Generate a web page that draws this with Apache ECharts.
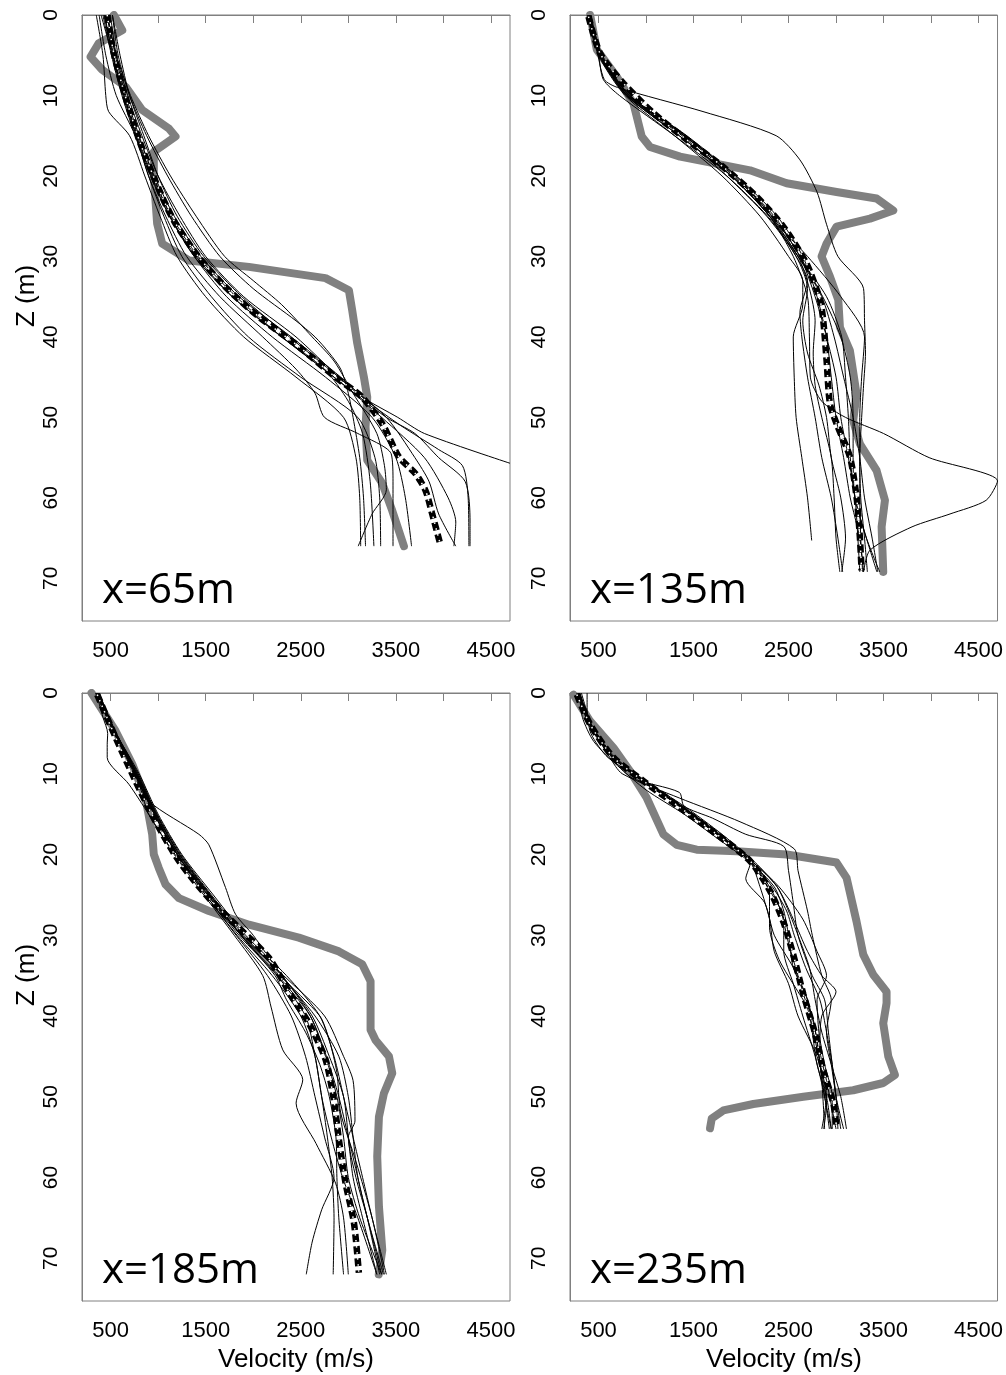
<!DOCTYPE html>
<html>
<head>
<meta charset="utf-8">
<script src="https://cdn.jsdelivr.net/npm/echarts@6.0.0/dist/echarts.min.js"></script>
<style>
html, body { margin: 0; background: #fff; }
#chart { width: 1006px; height: 1375px; }
</style>
</head>
<body>
<div id="chart"></div>
<script>
// each profile point is [depth (m), velocity (m/s)]

// x = 65 m
let true65 = [[0,535],[1.9,623],[3.5,377],[5.2,290],[6.8,412],[8.9,658],[11.8,833],[14.1,1113],[15.1,1183],[17,955],[20.1,955],[25.9,990],[28.4,1043],[30.5,1324],[31.3,1955],[32.7,2760],[34.2,3006],[36.7,3041],[40.8,3094],[45,3164],[47.5,3199],[51.2,3181],[55.3,3199],[58.2,3357],[61.6,3462],[66,3585]];
let mean65 = [[0,465],[4.8,535],[10.2,658],[16,815],[22.6,1043],[25.9,1183],[30.1,1429],[33.8,1709],[37.5,2060],[41.2,2480],[45,2866],[47.5,3146],[50.8,3357],[54.9,3532],[57,3707],[59.1,3812],[62,3882],[65.9,3970]];
let runs65 = [
    [[0,500],[5,560],[10,680],[15,830],[20,1000],[25,1230],[30,1500],[35,1900],[40,2450],[45,2900],[47.5,3150],[50,3520],[52,3800],[55.7,4700]],
    [[0,470],[5,530],[10,640],[15,790],[20,960],[25,1170],[30,1450],[35,1850],[40,2400],[45,2920],[48,3200],[51,3550],[54,3950],[56,4200],[60,4260],[66,4268]],
    [[0,420],[5,510],[10,620],[15,760],[20,920],[25,1120],[30,1400],[35,1780],[40,2300],[45,2850],[50,3350],[55,3800],[60,4050],[63,4130],[66,4110]],
    [[0,520],[5,600],[10,700],[15,850],[20,1000],[25,1200],[30,1480],[35,1880],[40,2380],[45,2900],[50,3400],[55,3700],[58,3850],[62,3950],[66,4130]],
    [[0,470],[5,550],[10,660],[15,800],[20,950],[25,1130],[30,1380],[35,1720],[40,2200],[45,2760],[50,3250],[55,3500],[60,3600],[66,3665]],
    [[0,400],[5,520],[10,640],[15,770],[20,900],[25,1060],[30,1250],[35,1560],[40,1950],[45,2500],[50,3100],[55,3280],[60,3330],[66,3340]],
    [[0,380],[5,450],[10,560],[15,760],[20,900],[25,1080],[30,1300],[35,1650],[40,2100],[44,2450],[47,2650],[50,2750],[52,3100],[54.5,3450],[58,3470],[66,3470]],
    [[0,440],[5,520],[10,630],[15,770],[20,930],[25,1120],[30,1380],[35,1780],[40,2300],[44,2750],[48,3000],[52,3150],[58,3230],[66,3269]],
    [[0,520],[5,580],[10,700],[15,880],[20,1100],[25,1350],[30,1650],[34,2000],[38,2450],[40,2650],[42,2800],[44,2920],[47,3000],[50,3050],[55,3120],[60,3160],[66,3181]],
    [[0,460],[5,560],[10,710],[15,900],[20,1130],[25,1400],[30,1700],[33,2000],[36,2300],[40,2620],[43,2850],[47,3050],[52,3300],[56,3380],[59,3400],[62,3250],[66,3104]],
    [[0,350],[5,420],[10,450],[12,480],[15,700],[20,860],[25,1020],[30,1200],[35,1500],[40,1900],[45,2450],[50,2950],[55,3080],[60,3120],[66,3130]],
    [[0,430],[5,530],[10,650],[15,780],[20,940],[25,1140],[30,1420],[35,1820],[40,2300],[45,2850],[50,3400],[52,3700],[55,3950],[58,4230],[63,4280],[66,4280]]
];

// x = 135 m
let true135 = [[0,412],[4.3,482],[7.7,693],[11,868],[15.1,955],[16.4,1043],[17.6,1359],[18.4,1709],[19.3,2095],[20.9,2480],[22,3006],[22.8,3427],[24.3,3602],[25.3,3357],[26.3,3006],[28.4,2901],[30,2848],[32.5,2936],[35.4,3024],[38.8,3041],[41.7,3146],[47.1,3216],[50.4,3181],[53.3,3251],[56.6,3427],[60.3,3515],[63.6,3480],[69.2,3497]];
let mean135 = [[0.2,395],[4.8,518],[8.5,763],[12.2,1079],[15.5,1429],[18.9,1814],[22.6,2165],[26.3,2445],[30.9,2690],[35.4,2831],[38,2866],[43,2901],[48.3,2936],[50.8,3006],[54.9,3146],[59.9,3216],[64.9,3251],[69,3269]];
let runs135 = [
    [[0,420],[4,480],[8,560],[9,700],[12,1600],[15,2370],[18,2620],[22,2800],[26,2900],[30,3020],[34,3290],[38,3300],[42,3310],[46,3290],[50,3270],[55,3250],[60,3260],[65,3300],[69.2,3330]],
    [[0,400],[5,520],[10,800],[15,1350],[20,1900],[25,2300],[30,2550],[35,2700],[40,2720],[45,2730],[48,2850],[50,3100],[52,3500],[55,3980],[57.9,4700],[60.3,4580],[62,4200],[63.6,3800],[66.5,3357],[69.2,3290]],
    [[0,380],[5,500],[10,780],[15,1300],[20,1800],[25,2200],[30,2500],[33,2650],[36,2650],[40,2550],[45,2560],[50,2580],[55,2640],[60,2700],[65.3,2744]],
    [[0,390],[5,510],[10,790],[15,1380],[20,1850],[25,2270],[30,2580],[34,2700],[38,2650],[42,2700],[46,2820],[50,2900],[55,2950],[60,3050],[65,3100],[69.2,3060]],
    [[0,400],[5,530],[10,820],[15,1400],[20,1900],[25,2300],[30,2600],[34,2720],[38,2780],[42,2760],[46,2780],[50,2850],[55,2950],[60,2980],[65,3000],[69.2,3040]],
    [[0,410],[5,540],[10,830],[15,1430],[20,1950],[25,2380],[30,2650],[35,2800],[40,2900],[45,2950],[50,3000],[55,3080],[60,3150],[65,3250],[69.2,3290]],
    [[0,400],[5,520],[10,810],[15,1420],[20,1930],[25,2350],[30,2620],[35,2860],[40,3050],[45,3150],[50,3180],[55,3180],[60,3200],[65,3320],[69.2,3430]],
    [[0,390],[5,500],[8,550],[10,720],[15,1300],[20,1850],[25,2280],[30,2600],[35,2900],[40,3060],[45,3100],[50,3130],[55,3150],[60,3200],[65,3320],[69.2,3460]],
    [[0,420],[5,530],[10,800],[15,1350],[20,1900],[22,2100],[25,2300],[30,2700],[35,3050],[40,3300],[45,3270],[50,3250],[55,3250],[60,3250],[65,3260],[69.2,3280]],
    [[0,400],[5,520],[10,830],[15,1420],[20,1920],[25,2330],[30,2620],[35,2780],[40,2900],[45,3000],[50,3050],[55,3130],[60,3200],[65,3230],[69.2,3250]],
    [[0,410],[5,530],[10,820],[15,1400],[20,1950],[25,2320],[30,2600],[35,2850],[40,2980],[45,3080],[50,3180],[55,3250],[60,3300],[65,3380],[69.2,3440]],
    [[0,390],[5,510],[10,800],[15,1400],[20,1900],[25,2300],[30,2580],[33,2700],[37,2620],[40,2640],[45,2700],[50,2780],[55,2850],[60,2950],[65,3020],[69.2,3070]]
];

// x = 185 m
let true185 = [[0,300],[4.7,553],[8.8,728],[13,868],[17.5,938],[20,955],[21.7,1008],[23.7,1078],[25.4,1219],[27,1534],[28.7,1955],[30.3,2480],[32,2901],[33.6,3146],[35.7,3234],[41.7,3234],[43,3287],[45,3427],[47.1,3462],[49.6,3374],[52.5,3322],[57.4,3304],[63.6,3322],[69,3357],[72,3320]];
let mean185 = [[0.2,360],[5.5,553],[10.9,763],[15.9,973],[20.8,1219],[25.4,1534],[29.1,1850],[32.8,2165],[37.5,2400],[40.9,2586],[45.4,2761],[50.4,2848],[55.3,2901],[60.7,2971],[65.6,3059],[71.8,3111]];
let runs185 = [
    [[0,380],[5,550],[10,760],[13.4,903],[17.5,1429],[18.8,1534],[24.1,1709],[27.4,1814],[30,2000],[35,2300],[40,2650],[45,2900],[50,3000],[55,3050],[60,3100],[65,3200],[72,3330]],
    [[0,350],[3,420],[5,470],[6.4,465],[8,465],[11.3,693],[15,900],[20,1170],[25,1480],[30,1800],[35,2100],[38.9,2188],[44.2,2311],[47.9,2521],[50.8,2451],[55.8,2661],[60.7,2866],[65,2950],[72,3000]],
    [[0,340],[5,540],[10,750],[15,960],[20,1200],[25,1500],[30,1820],[35,2150],[40,2400],[45,2550],[50,2650],[55,2750],[60,2850],[64,2720],[68,2620],[72,2558]],
    [[0,360],[5,540],[10,770],[15,960],[20,1200],[25,1520],[30,1850],[35,2250],[40,2550],[45,2650],[50,2720],[55,2780],[60,2830],[65,2850],[72,2841]],
    [[0,370],[5,560],[10,780],[15,980],[20,1220],[25,1540],[30,1880],[35,2300],[40,2620],[45,2800],[50,2950],[55,3000],[60,3050],[65,3150],[72,3300]],
    [[0,360],[5,550],[10,770],[15,970],[20,1210],[25,1530],[30,1870],[35,2280],[40,2700],[43,2800],[47,2880],[52,2920],[58,3080],[65,3250],[72,3380]],
    [[0,350],[5,540],[10,760],[15,960],[20,1200],[25,1520],[30,1880],[35,2320],[40,2750],[45,2950],[48,3050],[53,3070],[55,3000],[60,3080],[65,3200],[72,3350]],
    [[0,380],[5,560],[10,790],[15,990],[20,1240],[25,1560],[30,1900],[35,2300],[40,2600],[45,2760],[50,2880],[55,2950],[60,3000],[65,3120],[72,3350]],
    [[0,360],[4,500],[8,700],[12,820],[15,900],[20,1180],[25,1500],[30,1830],[35,2200],[40,2500],[45,2650],[50,2720],[55,2820],[60,2940],[65,3100],[72,3300]],
    [[0,370],[5,560],[10,800],[15,1000],[20,1250],[25,1580],[30,1920],[35,2350],[40,2700],[45,2850],[50,2950],[55,3050],[60,3150],[65,3250],[72,3400]],
    [[0,355],[5,545],[10,770],[15,975],[20,1230],[25,1550],[30,1870],[35,2230],[38,2350],[42,2550],[46,2700],[50,2800],[55,2870],[60,2880],[65,2900],[72,2950]],
    [[0,365],[5,555],[10,780],[15,985],[20,1225],[25,1545],[30,1870],[35,2260],[40,2600],[45,2770],[50,2900],[55,3000],[60,3100],[65,3200],[72,3370]]
];

// x = 235 m
let true235 = [[0.2,237],[3.5,412],[6.8,658],[9.7,833],[13,1008],[17.5,1183],[18.8,1324],[19.4,1534],[19.6,1955],[20,2480],[21,3006],[22.9,3111],[28.3,3216],[32.4,3287],[34.9,3392],[37,3532],[38.4,3532],[40.9,3497],[45,3550],[47.3,3620],[48.3,3497],[49.2,3181],[50,2656],[50.9,2130],[51.7,1814],[52.7,1692],[53.9,1674]];
let mean235 = [[0.2,272],[3.9,412],[8,658],[10.9,973],[14.2,1359],[17.5,1744],[20.8,2095],[24.5,2305],[28.3,2445],[32.4,2550],[37.3,2656],[42.1,2778],[46.7,2866],[50.8,2971],[53.9,3006]];
let runs235 = [
    [[0,300],[4,420],[8,620],[10,750],[13,1350],[16,2000],[19.3,2560],[22,2600],[27,2700],[30,2750],[35,2850],[38,2950],[42,2900],[46,2950],[50,3000],[54,3050]],
    [[0,320],[4,430],[8,640],[10.5,850],[12.3,1350],[14,1400],[15.5,1700],[17.5,2050],[19,2450],[22,2500],[26,2550],[30,2600],[35,2750],[38,2880],[42,2920],[46,2960],[50,3000],[54,3020]],
    [[0,380],[2,380],[5,420],[8,600],[11,1000],[14.5,1400],[18,1800],[21,2100],[24,2200],[28,2300],[32,2350],[36,2500],[40,2600],[45,2800],[50,2900],[54,2850]],
    [[0,280],[4,420],[8,660],[11,990],[14,1370],[17.5,1760],[21,2100],[23,2050],[26,2250],[30,2350],[34,2550],[38,2700],[42,2750],[46,2800],[50,2900],[54,2950]],
    [[0,290],[4,400],[8,650],[11,980],[14,1350],[17.5,1750],[21,2100],[25,2300],[29,2300],[33,2400],[37,2600],[40,2750],[45,2820],[50,2880],[54,2950]],
    [[0,300],[4,420],[8,670],[11,1000],[14,1380],[17.5,1780],[21,2120],[25,2330],[28,2450],[32,2450],[36,2550],[40,2650],[45,2780],[50,2880],[54,2930]],
    [[0,270],[4,410],[8,650],[11,970],[14,1360],[17.5,1760],[21,2130],[24,2380],[28,2550],[32,2700],[35,2850],[37,3000],[40,2850],[44,2830],[48,2900],[54,3000]],
    [[0,300],[3,330],[6,450],[9,700],[12,1000],[15,1400],[18,1750],[21,2100],[24,2350],[27,2450],[30,2500],[34,2550],[38,2700],[43,2800],[48,2850],[54,2880]],
    [[0,290],[4,420],[8,660],[11,990],[14,1370],[17.5,1760],[21,2110],[24,2300],[27,2420],[31,2500],[35,2600],[39,2700],[43,2780],[47,2850],[51,2900],[54,2870]],
    [[0,285],[4,415],[8,655],[11,980],[14,1360],[17.5,1750],[21,2110],[24,2330],[27,2480],[30,2560],[34,2680],[38,2830],[42,2900],[46,2960],[50,3000],[54,3080]],
    [[0,295],[4,425],[8,665],[11,995],[14,1375],[17.5,1770],[21,2130],[24,2400],[28,2650],[32,2800],[35,2900],[38,2800],[42,2820],[46,2880],[50,2960],[54,2960]],
    [[0,305],[4,430],[8,680],[11,1010],[14,1400],[17.5,1800],[21,2150],[24,2380],[27,2500],[30,2600],[34,2720],[38,2780],[42,2850],[46,2950],[50,3050],[54,3110]]
];

let panelNames = ['x=65m', 'x=135m', 'x=185m', 'x=235m'];
let velTicks = [500, 1000, 1500, 2000, 2500, 3000, 3500, 4000, 4500];
let velLabels = [500, 1500, 2500, 3500, 4500];
let depthLabels = [0, 10, 20, 30, 40, 50, 60, 70];

let chart = echarts.init(document.getElementById('chart'));

let boxColor = '#808080';
let tickFont = 'Liberation Sans, Arial, Helvetica, sans-serif';

let grids = [
    {left: 82, top: 15, width: 428, height: 606},
    {left: 570, top: 15, width: 429, height: 606},
    {left: 82, top: 693, width: 428, height: 608},
    {left: 570, top: 693, width: 429, height: 608}
];
grids.forEach(g => {
    g.show = true;
    g.borderColor = boxColor;
    g.borderWidth = 1;
    g.backgroundColor = 'transparent';
});

let xAxes = grids.map((g, i) => ({
    type: 'value',
    gridIndex: i,
    min: 200,
    max: 4700,
    axisLine: {show: true, lineStyle: {color: boxColor, width: 1}},
    axisTick: {show: true, length: 8, customValues: velTicks, lineStyle: {color: boxColor}},
    axisLabel: {
        customValues: velLabels, fontSize: 22, color: '#000', margin: 19, fontFamily: tickFont,
        formatter: v => String(v)
    },
    splitLine: {show: false}
}));

let yAxes = grids.map((g, i) => ({
    type: 'value',
    gridIndex: i,
    inverse: true,
    min: 0,
    max: 75.3,
    axisLine: {show: true, lineStyle: {color: boxColor, width: 1}},
    axisTick: {show: false},
    axisLabel: {
        customValues: depthLabels, rotate: 90, fontSize: 21, color: '#000', margin: 20, fontFamily: tickFont,
        formatter: v => String(v)
    },
    splitLine: {show: false}
}));

let series = [];
function toXY(pts) {
    return pts.map(p => [p[1], p[0]]);
}
function addPanel(i, runs, truth, mean) {
    let base = {type: 'line', xAxisIndex: i, yAxisIndex: i, symbol: 'none', silent: true, animation: false};
    series.push(Object.assign({}, base, {
        data: toXY(truth), z: 2,
        lineStyle: {color: '#808080', width: 8, cap: 'round', join: 'round'}
    }));
    runs.forEach(r => {
        series.push(Object.assign({}, base, {
            data: toXY(r), z: 3, smooth: 0.25,
            lineStyle: {color: '#000', width: 1}
        }));
    });
    series.push(Object.assign({}, base, {
        data: toXY(mean), z: 4, smooth: 0.25,
        lineStyle: {color: '#000', width: 6.5, type: [8, 4]}
    }));
    series.push(Object.assign({}, base, {
        data: toXY(mean), z: 5, smooth: 0.25,
        lineStyle: {color: '#fff', width: 1.5, type: [1.5, 4.5]}
    }));
}
addPanel(0, runs65, true65, mean65);
addPanel(1, runs135, true135, mean135);
addPanel(2, runs185, true185, mean185);
addPanel(3, runs235, true235, mean235);

let titleFont = 'Open Sans, DejaVu Sans, sans-serif';
let titlePos = [[102, 591], [590, 591], [102, 1271], [590, 1271]];
let graphic = panelNames.map((t, i) => ({
    type: 'text',
    x: titlePos[i][0],
    y: titlePos[i][1],
    style: {text: t, fill: '#000', fontSize: 42, fontFamily: titleFont, textAlign: 'left', textVerticalAlign: 'middle'}
}));
[296, 975].forEach(y => {
    graphic.push({
        type: 'text', x: 27, y: y, rotation: Math.PI / 2,
        style: {text: 'Z (m)', fill: '#000', fontSize: 26, fontFamily: tickFont, textAlign: 'center', textVerticalAlign: 'middle'}
    });
});
[296, 784].forEach(x => {
    graphic.push({
        type: 'text', x: x, y: 1360,
        style: {text: 'Velocity (m/s)', fill: '#000', fontSize: 26, fontFamily: tickFont, textAlign: 'center', textVerticalAlign: 'middle'}
    });
});

let option = {
    backgroundColor: '#fff',
    animation: false,
    grid: grids,
    xAxis: xAxes,
    yAxis: yAxes,
    graphic: graphic,
    series: series
};
chart.setOption(option);
window.onresize = chart.resize;
</script>
</body>
</html>
